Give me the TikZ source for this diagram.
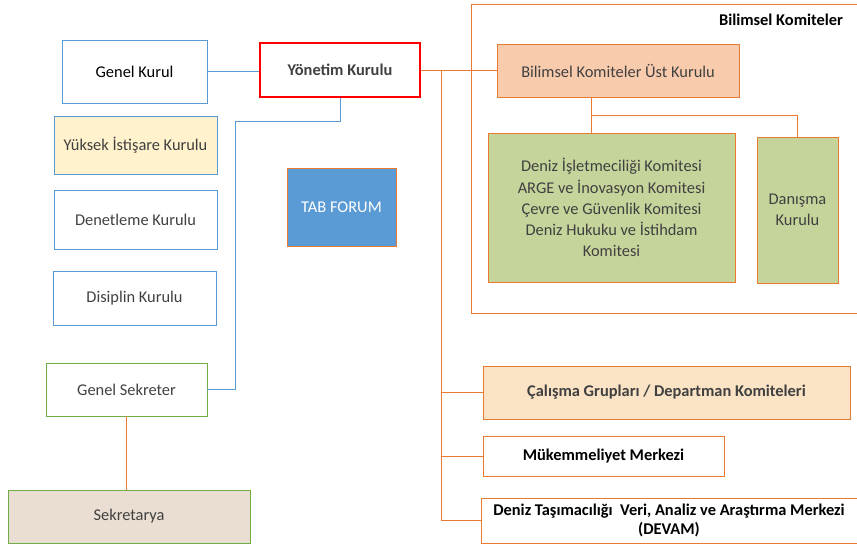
\documentclass[tikz,border=0pt]{standalone}
\usepackage{fontspec}
\setmainfont{Carlito}
\usetikzlibrary{positioning}
\definecolor{blueln}{RGB}{91,155,213}
\definecolor{orangeln}{RGB}{232,122,50}
\definecolor{greenln}{RGB}{112,173,71}
\definecolor{redln}{RGB}{255,0,0}
\definecolor{yellowbg}{RGB}{255,242,204}
\definecolor{peachbg}{RGB}{248,203,173}
\definecolor{olivebg}{RGB}{197,212,155}
\definecolor{lorangebg}{RGB}{251,228,198}
\definecolor{sandbg}{RGB}{234,222,210}
\definecolor{textgray}{RGB}{64,64,64}

\begin{document}
\begin{tikzpicture}[x=0.03cm,y=-0.03cm,
	box/.style={draw,line width=0.7pt,inner sep=0pt,align=center,text=textgray,font=\fontsize{14}{18}\selectfont},
	bluebox/.style={box,draw=blueln},
	orbox/.style={box,draw=orangeln},
	bluewire/.style={draw=blueln,line width=0.7pt},
	orwire/.style={draw=orangeln,line width=0.7pt}]
			\useasboundingbox (0,0) rectangle (857,544);
			
			\node[bluebox,minimum width=4.35cm,minimum height=1.89cm,text=black] (genel) at (134.5,71.5) {Genel Kurul};
			\node[box,draw=redln,line width=1.6pt,minimum width=4.8cm,minimum height=1.62cm,font=\fontsize{14}{18}\selectfont\bfseries] (yonetim) at (340,70) {Yönetim Kurulu};
			\node[bluebox,fill=yellowbg,minimum width=4.89cm,minimum height=1.74cm] (yuksek) at (135.5,145) {Yüksek İstişare Kurulu};
			\node[bluebox,minimum width=4.89cm,minimum height=1.77cm] (denetleme) at (135.5,219.5) {Denetleme Kurulu};
			\node[bluebox,minimum width=4.89cm,minimum height=1.62cm] (disiplin) at (134.5,298) {Disiplin Kurulu};
			\node[box,draw=greenln,minimum width=4.83cm,minimum height=1.59cm] (gsekreter) at (126.5,389.5) {Genel Sekreter};
			\node[box,draw=greenln,fill=sandbg,minimum width=7.26cm,minimum height=1.59cm] (sekretarya) at (129,516.5) {Sekretarya};
			\node[orbox,fill=blueln,text=white,minimum width=3.27cm,minimum height=2.34cm] (tab) at (341.5,207) {TAB FORUM};
			
			\draw[orwire] (471,4) rectangle (870,313);
			\node[font=\fontsize{14}{18}\selectfont\bfseries,inner sep=0pt] (bklabel) at (781,20) {Bilimsel Komiteler};
			\node[orbox,fill=peachbg,minimum width=7.26cm,minimum height=1.59cm] (ustkurul) at (618,70.5) {Bilimsel Komiteler Üst Kurulu};
			\node[orbox,fill=olivebg,minimum width=7.41cm,minimum height=4.47cm] (komiteler) at (611.5,207.5) {Deniz İşletmeciliği Komitesi\\ARGE ve İnovasyon Komitesi\\Çevre ve Güvenlik Komitesi\\Deniz Hukuku ve İstihdam\\Komitesi};
			\node[orbox,fill=olivebg,minimum width=2.43cm,minimum height=4.38cm] (danisma) at (797.5,210) {Danışma\\Kurulu};
			
			\node[orbox,fill=lorangebg,minimum width=11.01cm,minimum height=1.59cm,font=\fontsize{14}{18}\selectfont\bfseries] (calisma) at (666.5,392.5) {Çalışma Grupları / Departman Komiteleri};
			\node[orbox,text=black,minimum width=7.23cm,minimum height=1.2cm,font=\fontsize{14}{18}\selectfont\bfseries] (mukemmel) at (603.5,456) {Mükemmeliyet Merkezi};
			\node[orbox,text=black,minimum width=11.28cm,minimum height=1.35cm,font=\fontsize{14}{17}\selectfont\bfseries] (devam) at (669,520.5) {Deniz Taşımacılığı~ Veri, Analiz ve Araştırma Merkezi\\(DEVAM)};
			
			\draw[bluewire] (genel.east) -- (genel.east -| yonetim.west);
			\coordinate (bbend) at (235,121);
			\draw[bluewire] (yonetim.south) -- (yonetim.south |- bbend) -- (bbend) -- (bbend |- gsekreter.east) -- (gsekreter.east);
			\draw[orwire] (gsekreter.south) -- (gsekreter.south |- sekretarya.north);
			
			\draw[orwire] (yonetim.east) -- (yonetim.east -| ustkurul.west);
			\coordinate (trunk) at (441,70);
			\draw[orwire] (trunk) -- (trunk |- devam.west);
			\draw[orwire] (trunk |- calisma.west) -- (calisma.west);
			\draw[orwire] (trunk |- mukemmel.west) -- (mukemmel.west);
			\draw[orwire] (trunk |- devam.west) -- (devam.west);
			
			\coordinate (split) at (591,115);
			\draw[orwire] (split |- ustkurul.south) -- (split) -| (danisma.north);
			\draw[orwire] (split) -- (split |- komiteler.north);
			\end{tikzpicture}
\end{document}
